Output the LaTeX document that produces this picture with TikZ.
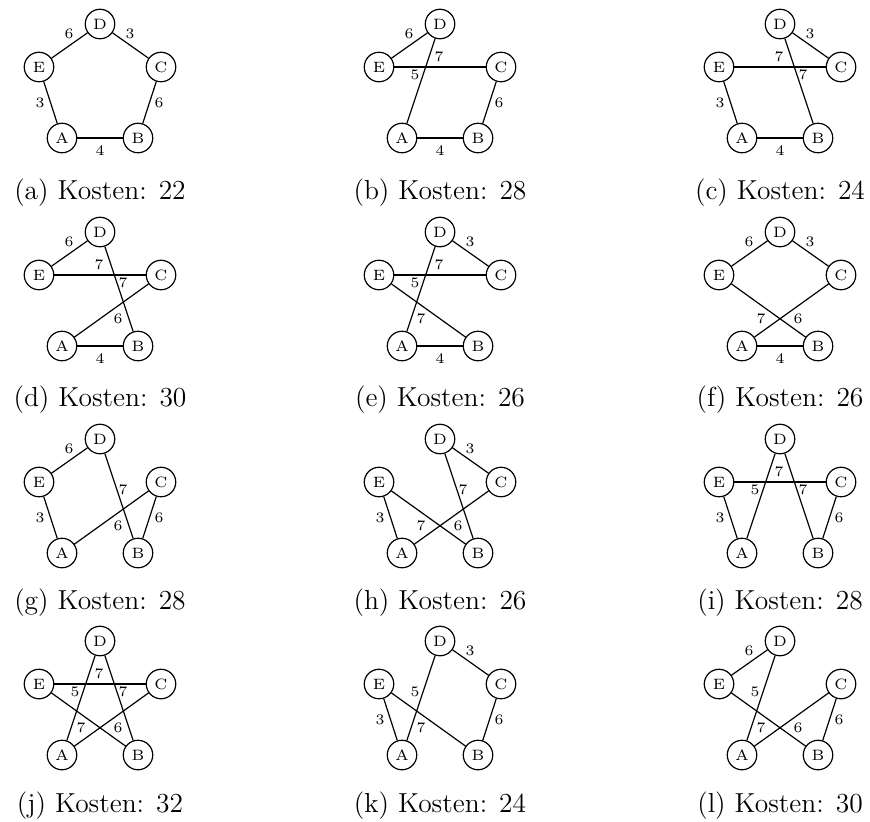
\documentclass[tikz,border=0pt]{standalone}
\usetikzlibrary{calc}
\tikzset{
  vtx/.style={circle, draw, line width=0.48pt, minimum size=11.8pt, inner sep=0pt, font=\fontsize{6}{7}\selectfont},
  edg/.style={line width=0.48pt},
  lbl/.style={inner sep=0pt, font=\fontsize{5.8}{7}\selectfont},
  captxt/.style={anchor=base, inner sep=0pt, font=\fontsize{11}{13}\selectfont}
}
\newcommand\edgeAB{\draw[edg] (A) -- (B); \node[lbl] (lAB) at (0,127) {4};}
\newcommand\edgeBC{\draw[edg] (C) -- (B); \node[lbl] (lBC) at (59,79) {6};}
\newcommand\edgeCD{\draw[edg] (D) -- (C); \node[lbl] (lCD) at (30,10) {3};}
\newcommand\edgeDE{\draw[edg] (D) -- (E); \node[lbl] (lDE) at (-31,10) {6};}
\newcommand\edgeEA{\draw[edg] (E) -- (A); \node[lbl] (lEA) at (-60,79) {3};}
\newcommand\edgeEC{\draw[edg] (E) -- (C); \node[lbl] (lEC) at (-1,33) {7};}
\newcommand\edgeDA{\draw[edg] (D) -- (A); \node[lbl] (lDA) at (-25,51) {5};}
\newcommand\edgeDB{\draw[edg] (D) -- (B); \node[lbl] (lDB) at (23,51) {7};}
\newcommand\edgeAC{\draw[edg] (A) -- (C); \node[lbl] (lAC) at (18,87) {6};}
\newcommand\edgeEB{\draw[edg] (E) -- (B); \node[lbl] (lEB) at (-19,87) {7};}
% #1 prefix, #2 cx, #3 y0, #4 caption baseline (relative), #5 caption, #6 edges
\newcommand\gpanel[6]{%
  \begin{scope}[shift={(#2,#3)}, name prefix=#1-]
    \node[vtx] (D) at (0,0) {D};
    \node[vtx] (E) at (-61,43) {E};
    \node[vtx] (C) at (61,43) {C};
    \node[vtx] (A) at (-38,114) {A};
    \node[vtx] (B) at (38,114) {B};
    #6
    \node[captxt] (caption) at (0,#4) {#5};
  \end{scope}}
\begin{document}
\begin{tikzpicture}[x=0.4pt, y=-0.4pt]
\useasboundingbox (0,0) rectangle (870,821);
\gpanel{a}{100}{24}{175}{(a) Kosten: 22}{\edgeAB\edgeBC\edgeCD\edgeDE\edgeEA}
\gpanel{b}{440}{24}{175}{(b) Kosten: 28}{\edgeDE\edgeDA\edgeEC\edgeBC\edgeAB}
\gpanel{c}{780}{24}{175}{(c) Kosten: 24}{\edgeCD\edgeEC\edgeDB\edgeEA\edgeAB}
\gpanel{d}{100}{232}{174}{(d) Kosten: 30}{\edgeDE\edgeEC\edgeDB\edgeAC\edgeAB}
\gpanel{e}{440}{232}{174}{(e) Kosten: 26}{\edgeCD\edgeDA\edgeEC\edgeEB\edgeAB}
\gpanel{f}{780}{232}{174}{(f) Kosten: 26}{\edgeDE\edgeCD\edgeEB\edgeAC\edgeAB}
\gpanel{g}{100}{439}{170}{(g) Kosten: 28}{\edgeDE\edgeEA\edgeDB\edgeAC\edgeBC}
\gpanel{h}{440}{439}{170}{(h) Kosten: 26}{\edgeCD\edgeDB\edgeEA\edgeEB\edgeAC}
\gpanel{i}{780}{439}{170}{(i) Kosten: 28}{\edgeEC\edgeDA\edgeDB\edgeEA\edgeBC}
\gpanel{j}{100}{641}{171}{(j) Kosten: 32}{\edgeEC\edgeDA\edgeDB\edgeEB\edgeAC}
\gpanel{k}{440}{641}{171}{(k) Kosten: 24}{\edgeCD\edgeDA\edgeEA\edgeEB\edgeBC}
\gpanel{l}{780}{641}{171}{(l) Kosten: 30}{\edgeDE\edgeDA\edgeEB\edgeAC\edgeBC}
\end{tikzpicture}
\end{document}
